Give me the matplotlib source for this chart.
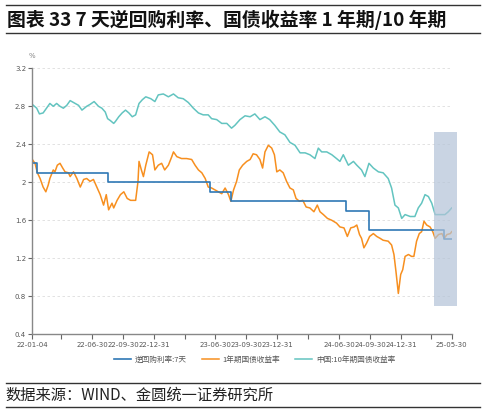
import numpy as np
import pandas as pd
import matplotlib
matplotlib.use("Agg")
import matplotlib.pyplot as plt
import matplotlib.dates as mdates
from matplotlib.patches import Rectangle

plt.rcParams['font.family'] = ['Noto Sans CJK SC', 'DejaVu Sans']
plt.rcParams['axes.unicode_minus'] = False

# 7天逆回购利率 (step)
repo_dates = ["2022-01-04", "2022-01-17", "2022-08-15", "2023-06-13", "2023-08-15",
              "2024-07-22", "2024-09-27", "2025-05-08", "2025-05-30"]
repo_vals = [2.2, 2.1, 2.0, 1.9, 1.8, 1.7, 1.5, 1.4, 1.4]

# 1年期国债收益率
y1_dates = ["2022-01-04", "2022-01-12", "2022-01-19", "2022-01-27", "2022-02-05", "2022-02-13",
            "2022-02-20", "2022-02-25", "2022-03-07", "2022-03-12", "2022-03-19", "2022-03-27",
            "2022-04-04", "2022-04-11", "2022-04-21", "2022-04-26", "2022-05-06", "2022-05-16",
            "2022-05-26", "2022-06-05", "2022-06-14", "2022-06-24", "2022-07-04", "2022-07-14",
            "2022-07-24", "2022-08-03", "2022-08-11", "2022-08-18", "2022-08-28", "2022-09-02",
            "2022-09-12", "2022-09-22", "2022-10-02", "2022-10-12", "2022-10-22", "2022-11-06",
            "2022-11-13", "2022-11-16", "2022-11-23", "2022-11-29", "2022-12-06", "2022-12-16",
            "2022-12-26", "2023-01-02", "2023-01-12", "2023-01-22", "2023-01-31", "2023-02-11",
            "2023-02-21", "2023-02-26", "2023-03-08", "2023-03-22", "2023-04-06", "2023-04-21",
            "2023-05-01", "2023-05-11", "2023-05-21", "2023-05-31", "2023-06-09", "2023-06-19",
            "2023-06-29", "2023-07-09", "2023-07-19", "2023-07-29", "2023-08-08", "2023-08-15",
            "2023-08-23", "2023-09-01", "2023-09-09", "2023-09-19", "2023-10-01", "2023-10-11",
            "2023-10-20", "2023-10-30", "2023-11-09", "2023-11-17", "2023-11-24", "2023-12-04",
            "2023-12-14", "2023-12-22", "2023-12-29", "2024-01-07", "2024-01-17", "2024-01-27",
            "2024-02-06", "2024-02-16", "2024-02-24", "2024-03-05", "2024-03-15", "2024-03-25",
            "2024-04-05", "2024-04-17", "2024-04-27", "2024-05-05", "2024-05-15", "2024-05-27",
            "2024-06-09", "2024-06-23", "2024-07-03", "2024-07-15", "2024-07-25", "2024-08-04",
            "2024-08-14", "2024-08-22", "2024-08-30", "2024-09-05", "2024-09-12", "2024-09-20",
            "2024-09-29", "2024-10-10", "2024-10-20", "2024-10-30", "2024-11-08", "2024-11-23",
            "2024-12-03", "2024-12-10", "2024-12-16", "2024-12-23", "2024-12-30", "2025-01-05",
            "2025-01-12", "2025-01-22", "2025-01-31", "2025-02-07", "2025-02-15", "2025-02-23",
            "2025-03-02", "2025-03-09", "2025-03-17", "2025-03-27", "2025-04-04", "2025-04-11",
            "2025-04-21", "2025-05-01", "2025-05-08", "2025-05-16", "2025-05-26", "2025-05-30"]
y1_vals = [2.24, 2.20, 2.10, 2.04, 1.95, 1.90, 1.97, 2.04, 2.13, 2.11, 2.18, 2.20,
           2.15, 2.11, 2.10, 2.06, 2.11, 2.04, 1.95, 2.03, 2.04, 2.01, 2.03, 1.95,
           1.87, 1.76, 1.87, 1.71, 1.78, 1.73, 1.81, 1.87, 1.90, 1.83, 1.81, 1.81,
           2.01, 2.22, 2.13, 2.06, 2.18, 2.32, 2.29, 2.13, 2.18, 2.20, 2.13, 2.18,
           2.27, 2.32, 2.27, 2.25, 2.25, 2.24, 2.18, 2.13, 2.10, 2.04, 1.95, 1.94,
           1.92, 1.90, 1.88, 1.94, 1.87, 1.80, 1.92, 2.01, 2.13, 2.18, 2.22, 2.24,
           2.30, 2.29, 2.24, 2.15, 2.32, 2.39, 2.36, 2.29, 2.11, 2.13, 2.10, 2.01,
           1.94, 1.92, 1.83, 1.80, 1.81, 1.74, 1.73, 1.69, 1.76, 1.69, 1.66, 1.62,
           1.60, 1.57, 1.53, 1.52, 1.43, 1.52, 1.53, 1.55, 1.45, 1.41, 1.31, 1.36,
           1.43, 1.46, 1.43, 1.41, 1.39, 1.38, 1.34, 1.24, 1.06, 0.83, 1.03, 1.08,
           1.22, 1.24, 1.22, 1.22, 1.38, 1.46, 1.48, 1.59, 1.55, 1.53, 1.48, 1.41,
           1.45, 1.46, 1.41, 1.45, 1.46, 1.48]

# 中国:10年期国债收益率
y10_dates = ["2022-01-04", "2022-01-17", "2022-01-25", "2022-02-05", "2022-02-15", "2022-02-25",
             "2022-03-07", "2022-03-17", "2022-03-27", "2022-04-06", "2022-04-16", "2022-04-26",
             "2022-05-11", "2022-05-21", "2022-05-31", "2022-06-14", "2022-06-24", "2022-07-06",
             "2022-07-19", "2022-07-29", "2022-08-08", "2022-08-15", "2022-08-23", "2022-09-02",
             "2022-09-07", "2022-09-17", "2022-09-27", "2022-10-07", "2022-10-17", "2022-10-27",
             "2022-11-06", "2022-11-16", "2022-11-26", "2022-12-06", "2022-12-21", "2023-01-02",
             "2023-01-12", "2023-01-27", "2023-02-11", "2023-02-26", "2023-03-12", "2023-03-27",
             "2023-04-11", "2023-04-26", "2023-05-11", "2023-05-25", "2023-06-09", "2023-06-19",
             "2023-07-04", "2023-07-19", "2023-08-03", "2023-08-17", "2023-08-27", "2023-09-11",
             "2023-09-26", "2023-10-11", "2023-10-25", "2023-11-09", "2023-11-24", "2023-12-08",
             "2023-12-23", "2024-01-07", "2024-01-22", "2024-02-06", "2024-02-21", "2024-03-07",
             "2024-03-22", "2024-04-05", "2024-04-20", "2024-04-30", "2024-05-10", "2024-05-25",
             "2024-06-09", "2024-06-23", "2024-07-03", "2024-07-13", "2024-07-28", "2024-08-12",
             "2024-08-22", "2024-09-05", "2024-09-15", "2024-09-27", "2024-10-10", "2024-10-25",
             "2024-11-08", "2024-11-23", "2024-12-03", "2024-12-13", "2024-12-23", "2025-01-02",
             "2025-01-12", "2025-01-27", "2025-02-10", "2025-02-20", "2025-03-02", "2025-03-12",
             "2025-03-22", "2025-04-01", "2025-04-11", "2025-04-26", "2025-05-10", "2025-05-20",
             "2025-05-30"]
y10_vals = [2.82, 2.78, 2.72, 2.73, 2.78, 2.83, 2.80, 2.83, 2.80, 2.78, 2.81, 2.86,
            2.83, 2.81, 2.76, 2.80, 2.82, 2.85, 2.80, 2.78, 2.74, 2.67, 2.65, 2.62,
            2.64, 2.69, 2.73, 2.76, 2.73, 2.69, 2.71, 2.83, 2.87, 2.90, 2.88, 2.85,
            2.92, 2.93, 2.90, 2.93, 2.89, 2.88, 2.84, 2.78, 2.73, 2.71, 2.71, 2.67,
            2.66, 2.62, 2.62, 2.57, 2.60, 2.66, 2.70, 2.69, 2.72, 2.66, 2.69, 2.66,
            2.60, 2.53, 2.50, 2.42, 2.39, 2.31, 2.31, 2.29, 2.25, 2.36, 2.32, 2.32,
            2.29, 2.25, 2.22, 2.29, 2.18, 2.22, 2.18, 2.13, 2.06, 2.20, 2.15, 2.11,
            2.10, 2.04, 1.94, 1.76, 1.73, 1.62, 1.66, 1.64, 1.64, 1.73, 1.78, 1.87,
            1.85, 1.78, 1.66, 1.66, 1.66, 1.69, 1.73]

tick_dates = ["2022-01-04", "2022-03-31", "2022-06-30", "2022-09-30", "2022-12-31",
              "2023-03-31", "2023-06-30", "2023-09-30", "2023-12-31", "2024-03-31",
              "2024-06-30", "2024-09-30", "2024-12-31", "2025-03-31", "2025-05-30"]
tick_labels = ["22-01-04", "", "22-06-30", "22-09-30", "22-12-31", "", "23-06-30",
               "23-09-30", "23-12-31", "", "24-06-30", "24-09-30", "24-12-31", "", "25-05-30"]
y_ticks = [0.4, 0.8, 1.2, 1.6, 2.0, 2.4, 2.8, 3.2]
y_labels = ["0.4", "0.8", "1.2", "1.6", "2", "2.4", "2.8", "3.2"]

# highlighted recent window
band_start, band_end = "2025-04-07", "2025-06-15"
band_low, band_high = 0.70, 2.53

c_repo = "#2f78b5"
c_y1 = "#f78f1f"
c_y10 = "#63c4c0"
grey = "#555555"

fig = plt.figure(figsize=(4.86, 4.13), dpi=100)
ax = fig.add_axes([0.0665, 0.1906, 0.8629, 0.644])

ax.plot(pd.to_datetime(y10_dates), y10_vals, color=c_y10, lw=1.1, label="中国:10年期国债收益率")
ax.plot(pd.to_datetime(y1_dates), y1_vals, color=c_y1, lw=1.1, label="1年期国债收益率")
ax.plot(pd.to_datetime(repo_dates), repo_vals, color=c_repo, lw=1.2, drawstyle="steps-post",
        label="逆回购利率:7天")

b0 = mdates.date2num(pd.Timestamp(band_start))
b1 = mdates.date2num(pd.Timestamp(band_end))
ax.add_patch(Rectangle((b0, band_low), b1 - b0, band_high - band_low, facecolor="#b3c3d8",
                       alpha=0.7, edgecolor="none", zorder=5, clip_on=False))

ax.set_xlim(pd.Timestamp(tick_dates[0]), pd.Timestamp(tick_dates[-1]))
ax.set_ylim(0.4, 3.2)
ax.set_xticks(pd.to_datetime(tick_dates))
ax.set_xticklabels(tick_labels, fontsize=5, color=grey, family="DejaVu Sans")
ax.set_yticks(y_ticks)
ax.set_yticklabels(y_labels, fontsize=5, color=grey, family="DejaVu Sans")
ax.tick_params(axis="x", length=3.5, width=0.8, color="#666666", pad=2)
ax.tick_params(axis="y", length=3, width=0.8, color="#666666", pad=1.5)

for v in y_ticks[1:]:
    ax.axhline(v, color="#dddddd", lw=0.6, ls=(0, (3, 3)), zorder=0)

for s in ["top", "right"]:
    ax.spines[s].set_visible(False)
for s in ["left", "bottom"]:
    ax.spines[s].set_color("#888888")
    ax.spines[s].set_linewidth(1.0)

ax.text(0.0, 1.035, "%", transform=ax.transAxes, fontsize=5, color="#888888",
        ha="center", va="bottom", family="DejaVu Sans")

h, l = ax.get_legend_handles_labels()
order = [2, 1, 0]
ax.legend([h[i] for i in order], [l[i] for i in order], loc="upper center",
          bbox_to_anchor=(0.53, -0.055), ncol=3, frameon=False, fontsize=5.5,
          handlelength=2.2, columnspacing=2.0, handletextpad=0.5, labelcolor=grey)

# title and source
fig.add_artist(plt.Line2D([0.012, 0.988], [1 - 5 / 413, 1 - 5 / 413], color="#333333", lw=1.0))
fig.add_artist(plt.Line2D([0.012, 0.988], [1 - 33 / 413, 1 - 33 / 413], color="#333333", lw=1.0))
fig.text(0.014, 1 - 19.5 / 413, "图表 33 7 天逆回购利率、国债收益率 1 年期/10 年期",
         fontsize=13.6, fontweight="bold", color="#111111", va="center", ha="left")
fig.add_artist(plt.Line2D([0.012, 0.988], [1 - 383 / 413, 1 - 383 / 413], color="#333333", lw=1.0))
fig.add_artist(plt.Line2D([0.012, 0.988], [1 - 407 / 413, 1 - 407 / 413], color="#333333", lw=1.0))
fig.text(0.012, 1 - 395.5 / 413, "数据来源：WIND、金圆统一证券研究所", fontsize=11,
         color="#222222", va="center", ha="left")

fig.savefig("out.png", dpi=100)
